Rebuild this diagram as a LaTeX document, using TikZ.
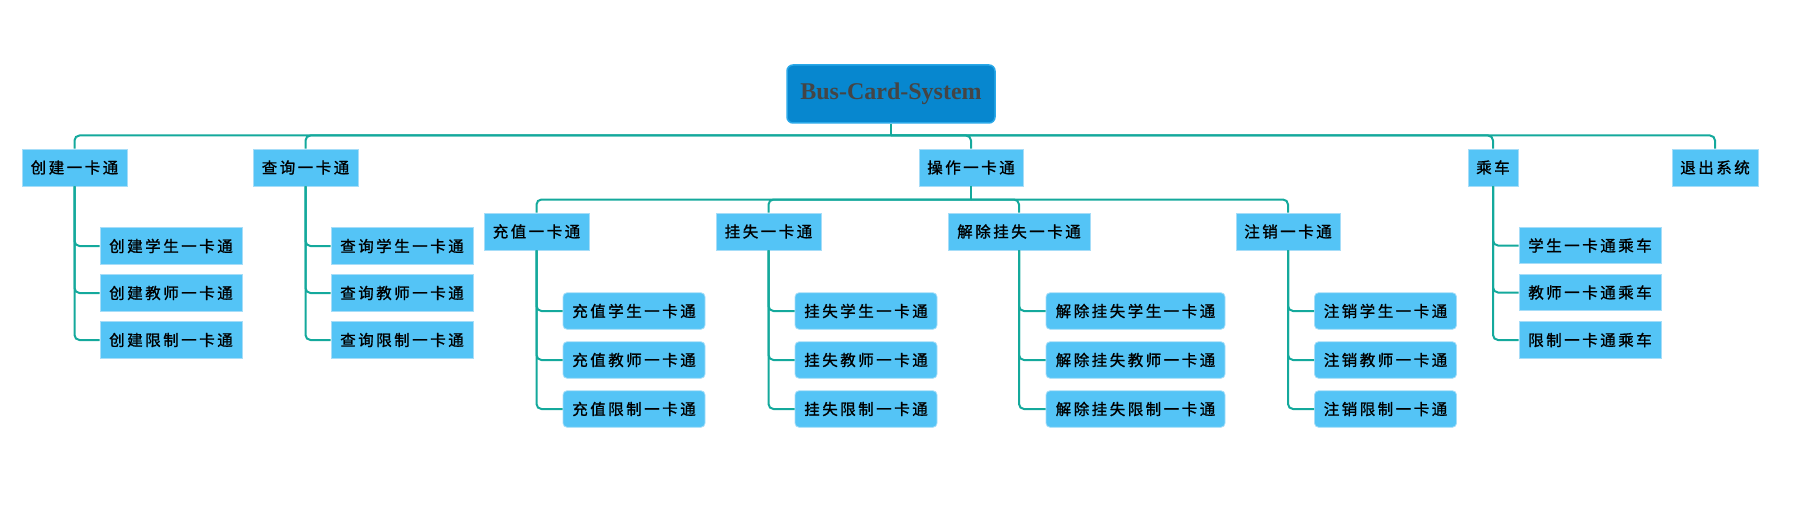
\documentclass[tikz,border=0pt]{standalone}
\usepackage{fontspec}
\newfontfamily\cjk[FakeBold=1.2]{Noto Sans CJK SC}
\newfontfamily\rootfont{Liberation Serif}
\definecolor{conncol}{HTML}{14A99C}
\definecolor{boxfill}{HTML}{54C4F6}
\definecolor{boxline}{HTML}{A6DDF8}
\definecolor{rootfill}{HTML}{0787CF}
\definecolor{rootline}{HTML}{2AA8E8}
\definecolor{roottext}{HTML}{454545}
\def\spaced#1{\spacedA#1\relax}
\def\spacedA#1#2{#1\ifx\relax#2\else\hspace{2.5pt}\expandafter\spacedA\expandafter#2\fi}
\tikzset{
  base/.style={fill=boxfill, draw=boxline, line width=0.8pt, inner sep=0pt,
    font=\cjk\fontsize{15.5}{17}\selectfont, text=black},
  lone/.style={base, minimum height=37pt},
  leaf/.style={base, minimum height=36.5pt},
  rleaf/.style={leaf, rounded corners=4pt},
  rootbox/.style={fill=rootfill, draw=rootline, line width=1.5pt, rounded corners=6pt,
    minimum width=208pt, minimum height=58pt, inner sep=0pt,
    font=\rootfont\bfseries\fontsize{24}{28}\selectfont, text=roottext},
  conn/.style={draw=conncol, line width=2pt, rounded corners=5pt},
}
\begin{document}
\begin{tikzpicture}[x=1pt,y=-1pt]
\useasboundingbox (0,0) rectangle (1807,532);
% root
\node[rootbox] (root) at (891,94) {\raisebox{-2.5pt}{Bus-Card-System}};
% level 1
\node[lone, minimum width=105pt] (cj) at (74.5,167.5) {\spaced{创建一卡通}};
\node[lone, minimum width=105pt] (cx) at (305.5,167.5) {\spaced{查询一卡通}};
\node[lone, minimum width=104pt] (cz) at (971,167.5) {\spaced{操作一卡通}};
\node[lone, minimum width=50pt] (cc) at (1493,167.5) {\spaced{乘车}};
\node[lone, minimum width=86pt] (tc) at (1715,167.5) {\spaced{退出系统}};
% level 2
\node[lone, minimum width=105pt] (chz) at (536.5,231.5) {\spaced{充值一卡通}};
\node[lone, minimum width=105pt] (gs) at (768.5,231.5) {\spaced{挂失一卡通}};
\node[lone, minimum width=142pt] (jc) at (1019,231.5) {\spaced{解除挂失一卡通}};
\node[lone, minimum width=104pt] (zx) at (1288,231.5) {\spaced{注销一卡通}};
% leaves of 创建
\node[leaf, minimum width=142pt] (cj1) at (171,246) {\spaced{创建学生一卡通}};
\node[leaf, minimum width=142pt] (cj2) at (171,293) {\spaced{创建教师一卡通}};
\node[leaf, minimum width=142pt] (cj3) at (171,340) {\spaced{创建限制一卡通}};
% leaves of 查询
\node[leaf, minimum width=142pt] (cx1) at (402,246) {\spaced{查询学生一卡通}};
\node[leaf, minimum width=142pt] (cx2) at (402,293) {\spaced{查询教师一卡通}};
\node[leaf, minimum width=142pt] (cx3) at (402,340) {\spaced{查询限制一卡通}};
% leaves of 充值
\node[rleaf, minimum width=142pt] (chz1) at (634,311) {\spaced{充值学生一卡通}};
\node[rleaf, minimum width=142pt] (chz2) at (634,360) {\spaced{充值教师一卡通}};
\node[rleaf, minimum width=142pt] (chz3) at (634,409) {\spaced{充值限制一卡通}};
% leaves of 挂失
\node[rleaf, minimum width=142pt] (gs1) at (866,311) {\spaced{挂失学生一卡通}};
\node[rleaf, minimum width=142pt] (gs2) at (866,360) {\spaced{挂失教师一卡通}};
\node[rleaf, minimum width=142pt] (gs3) at (866,409) {\spaced{挂失限制一卡通}};
% leaves of 解除挂失
\node[rleaf, minimum width=179pt] (jc1) at (1135.5,311) {\spaced{解除挂失学生一卡通}};
\node[rleaf, minimum width=179pt] (jc2) at (1135.5,360) {\spaced{解除挂失教师一卡通}};
\node[rleaf, minimum width=179pt] (jc3) at (1135.5,409) {\spaced{解除挂失限制一卡通}};
% leaves of 注销
\node[rleaf, minimum width=142pt] (zx1) at (1385.5,311) {\spaced{注销学生一卡通}};
\node[rleaf, minimum width=142pt] (zx2) at (1385.5,360) {\spaced{注销教师一卡通}};
\node[rleaf, minimum width=142pt] (zx3) at (1385.5,409) {\spaced{注销限制一卡通}};
% leaves of 乘车
\node[leaf, minimum width=142pt] (cc1) at (1590,245.5) {\spaced{学生一卡通乘车}};
\node[leaf, minimum width=142pt] (cc2) at (1590,292.5) {\spaced{教师一卡通乘车}};
\node[leaf, minimum width=142pt] (cc3) at (1590,340) {\spaced{限制一卡通乘车}};
% connectors
\coordinate (bus1) at (891,135.5);
\coordinate (bus2) at (971,199.5);
\draw[conn] (root.south) -- (bus1);
\foreach \c in {cj,cx,cz,cc,tc} \draw[conn] (bus1) -| (\c.north);
\draw[conn] (cz.south) -- (bus2);
\foreach \c in {chz,gs,jc,zx} \draw[conn] (bus2) -| (\c.north);
\foreach \p in {cj,cx,cc,chz,gs,jc,zx}
  \foreach \i in {1,2,3} \draw[conn] (\p.south) |- (\p\i.west);
\end{tikzpicture}
\end{document}
